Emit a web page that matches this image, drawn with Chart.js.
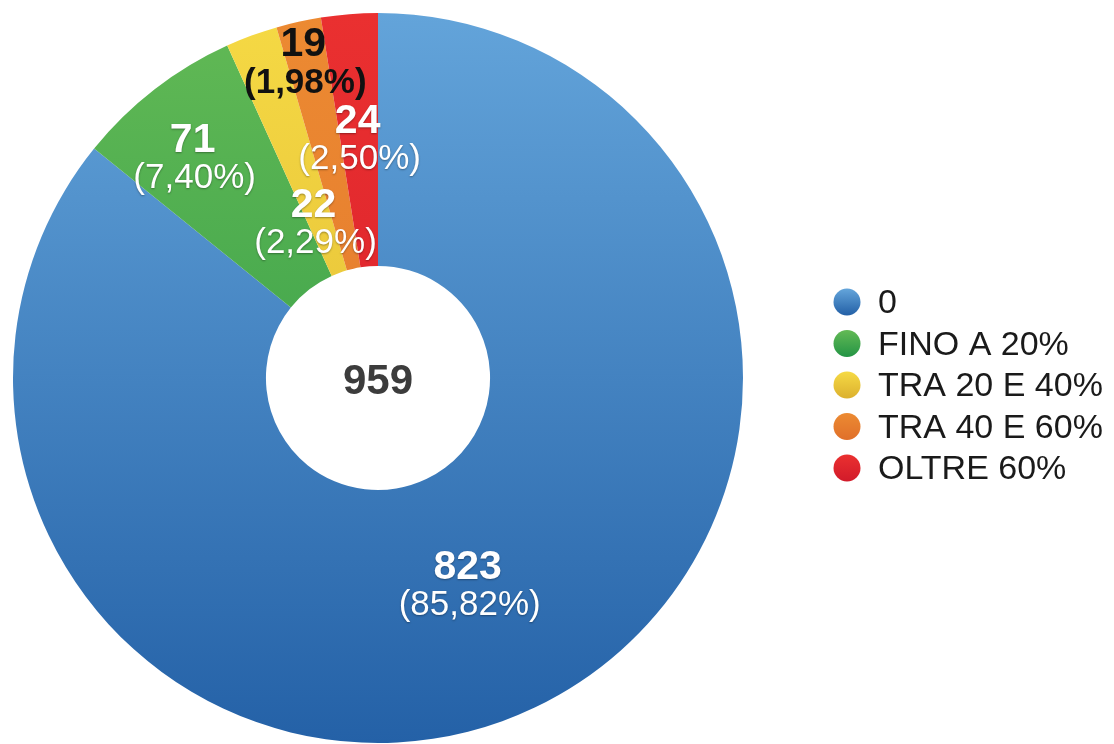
<!DOCTYPE html>
<html>
<head>
<meta charset="utf-8">
<script src="https://cdn.jsdelivr.net/npm/chart.js@4/dist/chart.umd.min.js"></script>
<style>
  body { margin: 0; background: #fff; }
  #wrap { width: 1114px; height: 744px; position: relative; }
</style>
</head>
<body>
<div id="wrap"><canvas id="torta"></canvas></div>
<script>
// dati del grafico
const categorie = ['0', 'FINO A 20%', 'TRA 20 E 40%', 'TRA 40 E 60%', 'OLTRE 60%'];
const valori = [823, 71, 22, 19, 24];

// colori (alto, basso) per il gradiente di ogni fetta
const coloriAlto = ['#63a4da', '#62b955', '#f5d944', '#ec8a32', '#ea3030'];
const coloriBasso = ['#2461a7', '#259545', '#dcb12f', '#e0702a', '#d21b2a'];
const coloriTesto = ['#fff', '#fff', '#fff', '#111', '#fff'];
// distanza dell'etichetta dal centro (frazione del raggio esterno)
const raggioEtichetta = [0.57, 0.83, 0.51, 0.94, 0.71];

const totale = valori.reduce((a, b) => a + b, 0);
const FONT = '"Liberation Sans", Arial, sans-serif';

function gradiente(ctx) {
  const chart = ctx.chart;
  const area = chart.chartArea;
  if (!area) return coloriAlto[ctx.dataIndex];
  const g = chart.ctx.createLinearGradient(0, area.top, 0, area.bottom);
  g.addColorStop(0, coloriAlto[ctx.dataIndex]);
  g.addColorStop(1, coloriBasso[ctx.dataIndex]);
  return g;
}

const etichette = {
  id: 'etichette',
  afterDatasetsDraw(chart) {
    const ctx = chart.ctx;
    const meta = chart.getDatasetMeta(0);
    ctx.save();
    ctx.textAlign = 'center';
    ctx.textBaseline = 'middle';
    meta.data.forEach((arc, i) => {
      const mid = (arc.startAngle + arc.endAngle) / 2;
      const r = arc.outerRadius * raggioEtichetta[i];
      const x = arc.x + Math.cos(mid) * r;
      const y = arc.y + Math.sin(mid) * r;
      const perc = '(' + (valori[i] / totale * 100).toFixed(2).replace('.', ',') + '%)';
      ctx.fillStyle = coloriTesto[i];
      if (coloriTesto[i] === '#fff') {
        ctx.shadowColor = 'rgba(0,0,0,0.35)';
        ctx.shadowBlur = 2;
        ctx.shadowOffsetY = 1;
      } else {
        ctx.shadowColor = 'transparent';
      }
      ctx.font = 'bold 41px ' + FONT;
      ctx.fillText(String(valori[i]), x, y + 2);
      ctx.font = (coloriTesto[i] === '#fff' ? '' : 'bold ') + '35px ' + FONT;
      ctx.fillText(perc, x + 2, y + 40);
    });
    // totale al centro
    const a0 = meta.data[0];
    ctx.shadowColor = 'transparent';
    ctx.fillStyle = '#3c3c3c';
    ctx.font = 'bold 42px ' + FONT;
    ctx.fillText(String(totale), a0.x, a0.y + 4);

    // legenda
    ctx.textAlign = 'left';
    ctx.font = '34px ' + FONT;
    categorie.forEach((c, i) => {
      const y = 302 + i * 41.5;
      const g = ctx.createLinearGradient(0, y - 13, 0, y + 13);
      g.addColorStop(0, coloriAlto[i]);
      g.addColorStop(1, coloriBasso[i]);
      ctx.fillStyle = g;
      ctx.beginPath();
      ctx.arc(847, y, 13.5, 0, Math.PI * 2);
      ctx.fill();
      ctx.fillStyle = '#1a1a1a';
      ctx.fillText(c, 878, y + 2);
    });
    ctx.restore();
  }
};

new Chart(document.getElementById('torta'), {
  type: 'doughnut',
  data: {
    labels: categorie,
    datasets: [{
      data: valori,
      backgroundColor: gradiente,
      borderWidth: 0
    }]
  },
  options: {
    responsive: true,
    maintainAspectRatio: false,
    animation: false,
    cutout: '30.7%',
    layout: { padding: { left: 13, top: 13, right: 371, bottom: 1 } },
    plugins: {
      legend: { display: false },
      tooltip: { enabled: false }
    }
  },
  plugins: [etichette]
});
</script>
</body>
</html>
